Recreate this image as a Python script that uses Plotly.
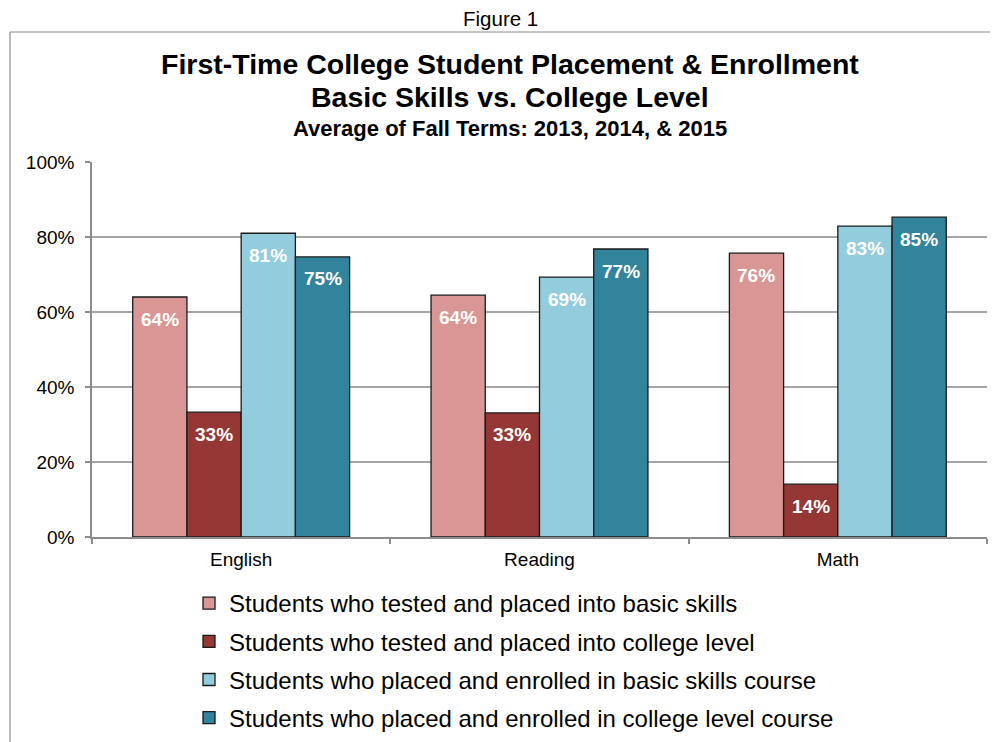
import plotly.graph_objects as go

categories = ["English", "Reading", "Math"]
series_names = [
    "Students who tested and placed into basic skills",
    "Students who tested and placed into college level",
    "Students who placed and enrolled in basic skills course",
    "Students who placed and enrolled in college level course",
]
basic_placed = [64.0, 64.5, 75.7]
college_placed = [33.3, 33.1, 14.1]
basic_enrolled = [81.0, 69.3, 82.9]
college_enrolled = [74.7, 76.8, 85.3]
series_values = [basic_placed, college_placed, basic_enrolled, college_enrolled]
colors = ["#D99694", "#953735", "#93CDDD", "#31849B"]
y_ticks = [0, 20, 40, 60, 80, 100]
y_tick_labels = ["0%", "20%", "40%", "60%", "80%", "100%"]

# page body has an 8px margin: figure is drawn in a 990x734 box offset by 8px
OFF = 8
W, H = 998 - OFF, 742 - OFF
ML, MR, MT, MB = 92 - OFF, 11, 162 - OFF, 742 - 537
PW = W - ML - MR
PH = H - MT - MB
FONT = "Liberation Sans, Arial"

fig = go.Figure()
for i, (name, vals, col) in enumerate(zip(series_names, series_values, colors)):
    fig.add_trace(go.Bar(
        x=categories, y=vals, name=name, legendgroup=f"g{i}",
        marker=dict(color=col, line=dict(color="#1a1a1a", width=1.3)),
        hoverinfo="y",
    ))

# value labels inside the bars, just below their tops
bar_px = PW / len(categories) * (1 - 0.273) / len(series_names)
for i, vals in enumerate(series_values):
    for c, v in zip(categories, vals):
        fig.add_annotation(
            x=c, y=v, xref="x", yref="y", text=f"<b>{round(v):.0f}%</b>",
            showarrow=False, xshift=(i - 1.5) * bar_px, yshift=-22,
            font=dict(family=FONT, size=19, color="white"),
        )

def px_x(p):
    return (p - OFF - ML) / PW

def px_y(p):
    return (H - MB - (p - OFF)) / PH

# outer chart border
fig.add_shape(type="line", xref="paper", yref="paper",
              x0=px_x(10), x1=px_x(1200), y0=px_y(32), y1=px_y(32),
              line=dict(color="#8c8c8c", width=1.2))
fig.add_shape(type="line", xref="paper", yref="paper",
              x0=px_x(10), x1=px_x(10), y0=px_y(32), y1=px_y(900),
              line=dict(color="#8c8c8c", width=1.2))

# titles
titles = [
    ("Figure 1", 500, 18, 20.5),
    ("<b>First-Time College Student Placement & Enrollment</b>", 510, 64, 28.5),
    ("<b>Basic Skills vs. College Level</b>", 510, 97, 28.5),
    ("<b>Average of Fall Terms: 2013, 2014, & 2015</b>", 510, 128, 22),
]
for txt, cx, cy, fs in titles:
    fig.add_annotation(xref="paper", yref="paper", x=px_x(cx), y=px_y(cy),
                       xanchor="center", yanchor="middle",
                       text=txt, showarrow=False,
                       font=dict(family=FONT, size=fs, color="black"))

fig.update_layout(
    width=W, height=H,
    margin=dict(l=ML, r=MR, t=MT, b=MB, pad=0, autoexpand=False),
    paper_bgcolor="white", plot_bgcolor="white",
    barmode="group", bargap=0.273, bargroupgap=0,
    font=dict(family=FONT, size=19, color="black"),
    showlegend=True,
    legend=dict(
        x=px_x(189), y=px_y(581), xanchor="left", yanchor="top",
        orientation="v", traceorder="grouped", tracegroupgap=4,
        font=dict(family=FONT, size=24, color="black"),
        bgcolor="rgba(0,0,0,0)",
    ),
    xaxis=dict(
        showline=True, linecolor="#8c8c8c", linewidth=1.5,
        ticks="outside", ticklen=5, tickcolor="#8c8c8c", tickwidth=1.5,
        tickson="boundaries", tickfont=dict(size=19),
        ticklabelstandoff=4,
        showgrid=False,
    ),
    yaxis=dict(
        range=[0, 100], tickvals=y_ticks, ticktext=y_tick_labels,
        showline=True, linecolor="#8c8c8c", linewidth=1.5,
        ticks="outside", ticklen=5, tickcolor="#8c8c8c", tickwidth=1.5,
        ticklabelstandoff=7,
        showgrid=True, gridcolor="#a6a6a6", gridwidth=1.5,
        tickfont=dict(size=19), zeroline=False,
    ),
)

fig.write_html("out.html")
